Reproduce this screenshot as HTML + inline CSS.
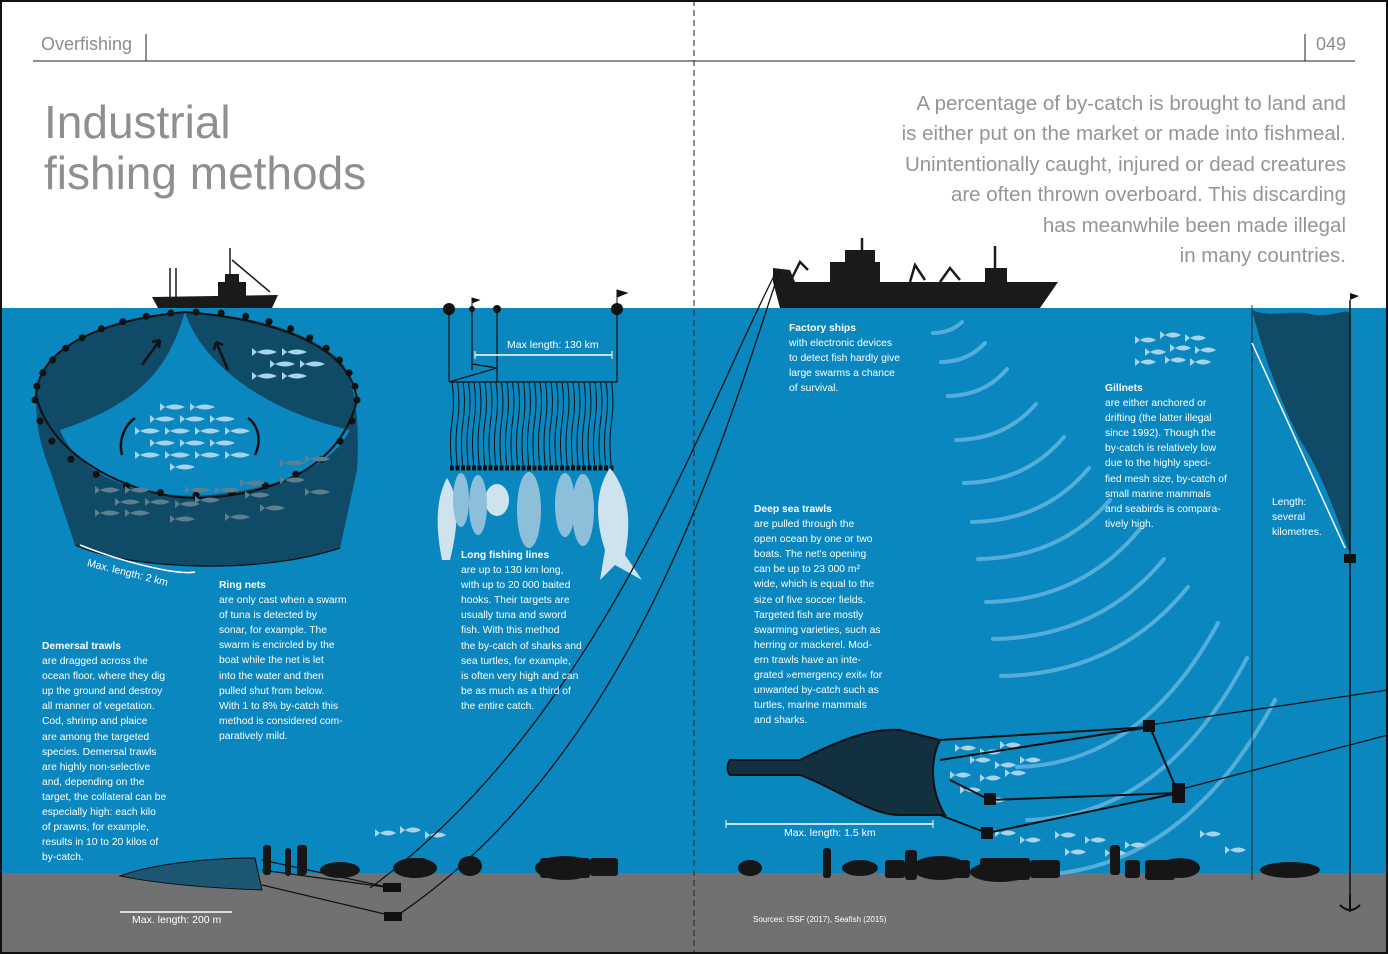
<!DOCTYPE html>
<html><head><meta charset="utf-8">
<style>
html,body{margin:0;padding:0}
body{width:1388px;height:954px;position:relative;overflow:hidden;background:#fff;font-family:"Liberation Sans",sans-serif}
.t{position:absolute;color:#fff;font-size:10.3px;line-height:15.1px;white-space:pre}
.t b{font-weight:bold}
.g{position:absolute;color:#8c8c8c}
</style></head><body>
<svg id="s" width="1388" height="954" style="position:absolute;left:0;top:0">
<rect x="0" y="308" width="1388" height="570" fill="#0a87bf"/>
<rect x="0" y="873" width="1388" height="81" fill="#707173"/>
<line x1="33" y1="61" x2="1355" y2="61" stroke="#222" stroke-width="1"/>
<line x1="146" y1="34" x2="146" y2="61" stroke="#222"/>
<line x1="1305" y1="34" x2="1305" y2="61" stroke="#222"/>
<line x1="694" y1="0" x2="694" y2="954" stroke="#222" stroke-dasharray="6,4"/>
<g id="sonar" fill="none" stroke="#6dbbe2" stroke-width="4" stroke-linecap="round" opacity="0.75"></g>
<path d="M185,312 C120,318 40,340 36,395 C36,420 38,440 50,470 L75,545 C130,570 260,575 340,548 L357,470 C360,420 355,380 340,360 C300,325 240,315 185,312Z" fill="#0f4a66"/>
<path d="M185,312 C170,360 150,400 60,430 C80,480 150,500 210,495 C270,490 330,470 350,430 C260,410 200,360 185,312Z" fill="#0a87bf"/>
<path d="M36,395 C50,460 140,500 200,498 C270,495 340,470 357,400" fill="none" stroke="#111" stroke-width="2"/>
<path d="M185,312 C120,318 40,340 36,395 M185,312 C260,318 350,340 357,400" fill="none" stroke="#111" stroke-width="2"/>
<path d="M75,545 C130,570 260,575 340,548" fill="none" stroke="#111" stroke-width="1.2"/>
<g id="ringdots" fill="#111"></g>
<path d="M80,545 C130,565 180,575 195,572" fill="none" stroke="#fff" stroke-width="1.5"/>
<path d="M142,365 l18,-25 M160,340 l-8,2 M160,340 l-1,8 M228,370 l-12,-28 M216,342 l-2,8 M216,342 l7,3" stroke="#111" stroke-width="2.5" fill="none"/>
<path d="M122,455 C118,440 125,425 135,418 M255,455 C262,440 258,425 248,418" stroke="#111" stroke-width="2.5" fill="none"/>
<g id="fish"></g>
<path d="M152,297 L278,295 L272,308 L158,308Z" fill="#1a1a1a"/>
<rect x="218" y="282" width="28" height="15" fill="#1a1a1a"/><rect x="225" y="274" width="14" height="9" fill="#1a1a1a"/>
<path d="M170,297 L170,268 M176,297 L176,268 M230,274 L230,248 M232,260 L270,292" stroke="#1a1a1a" stroke-width="1.5"/>
<g stroke="#111" stroke-width="1.2" fill="none">
<line x1="449" y1="308" x2="449" y2="382"/><line x1="617" y1="308" x2="617" y2="382"/><line x1="472" y1="305" x2="472" y2="370"/><line x1="497" y1="310" x2="497" y2="382"/>
<line x1="449" y1="382" x2="617" y2="382"/><path d="M449,382 L497,368 L472,364"/>
</g>
<g id="hooks" stroke="#111" stroke-width="1" fill="none"></g>
<circle cx="449" cy="309" r="6" fill="#111"/><circle cx="617" cy="309" r="6" fill="#111"/><circle cx="472" cy="309" r="3" fill="#111"/><circle cx="497" cy="309" r="4" fill="#111"/>
<path d="M617,303 V290 l10,3 -10,4" fill="#111" stroke="#111"/><path d="M472,306 V298 l7,2 -7,3" fill="#111" stroke="#111"/>
<line x1="475" y1="355" x2="612" y2="355" stroke="#fff" stroke-width="1.5"/><line x1="475" y1="351" x2="475" y2="359" stroke="#fff"/><line x1="612" y1="351" x2="612" y2="359" stroke="#fff"/>
<g fill="#cfe3ee">
<path d="M447,478 C435,500 436,530 442,560 L450,560 C460,520 458,495 447,478Z"/>
<path d="M610,468 C595,490 595,520 605,550 L600,580 L615,565 L642,580 L625,555 C632,520 628,490 610,468Z"/>
<ellipse cx="497" cy="500" rx="12" ry="16"/>
</g>
<g fill="#8dbfda"><ellipse cx="478" cy="505" rx="9" ry="30"/><ellipse cx="529" cy="510" rx="12" ry="38"/><ellipse cx="565" cy="505" rx="10" ry="32"/><ellipse cx="583" cy="510" rx="11" ry="36"/><ellipse cx="461" cy="500" rx="8" ry="27"/></g>
<path d="M773,282 L1058,282 L1040,308 L780,308Z" fill="#1a1a1a"/>
<path d="M773,282 L773,268 L790,270 L795,282Z" fill="#1a1a1a"/>
<rect x="830" y="262" width="50" height="22" fill="#1a1a1a"/><rect x="845" y="250" width="30" height="14" fill="#1a1a1a"/>
<rect x="985" y="268" width="22" height="16" fill="#1a1a1a"/>
<path d="M862,250 V238 M995,268 V246 M790,282 L800,262 L808,270 M910,282 L915,265 L925,280 M940,282 L950,268 L960,280" stroke="#1a1a1a" stroke-width="2.5" fill="none"/>
<path d="M776,272 C700,420 600,720 370,888" stroke="#111" stroke-width="1.3" fill="none"/>
<path d="M779,272 C720,450 630,760 395,917" stroke="#111" stroke-width="1.3" fill="none"/>
<path d="M730,760 L800,760 C840,740 870,728 900,730 L940,740 C930,760 930,790 945,815 L900,815 C870,815 840,790 800,775 L730,775 Q725,768 730,760Z" fill="#12303f" stroke="#111" stroke-width="2"/>
<path d="M940,740 L1150,727 L1178,793 L990,800 M940,815 L987,833 L1178,793 M940,760 L1150,727 M950,780 L990,800" stroke="#111" stroke-width="2" fill="none"/>
<path d="M1150,725 L1388,690 M1178,790 L1388,735" stroke="#111" stroke-width="1.3"/>
<rect x="1143" y="720" width="12" height="12" fill="#111"/><rect x="1172" y="783" width="13" height="20" fill="#111"/><rect x="984" y="793" width="12" height="12" fill="#111"/><rect x="981" y="827" width="12" height="12" fill="#111"/>
<line x1="726" y1="824" x2="933" y2="824" stroke="#fff" stroke-width="1.5"/><line x1="726" y1="820" x2="726" y2="828" stroke="#fff"/><line x1="933" y1="820" x2="933" y2="828" stroke="#fff"/>
<path d="M1252,310 C1270,318 1290,310 1310,314 C1330,318 1340,310 1350,312 L1350,555 C1335,510 1320,470 1300,440 C1280,400 1265,360 1252,310Z" fill="#0f4a66"/>
<line x1="1350" y1="300" x2="1350" y2="905" stroke="#111" stroke-width="1.5"/>
<line x1="1252" y1="305" x2="1252" y2="880" stroke="#111" stroke-width="0.8"/>
<rect x="1344" y="554" width="12" height="9" fill="#111"/>
<path d="M1340,905 Q1350,915 1360,905 M1350,895 V912" stroke="#111" stroke-width="2" fill="none"/>
<line x1="1252" y1="343" x2="1345" y2="548" stroke="#fff" stroke-width="1.5"/>
<path d="M1350,303 V293 l9,3 -9,4" fill="#111"/>
<path d="M120,876 C150,865 200,858 255,858 L262,890 C210,888 160,884 120,876Z" fill="#1d5670" stroke="#111"/>
<path d="M262,860 L392,888 M262,885 L393,916 M262,870 L392,888" stroke="#111" stroke-width="1.2"/>
<rect x="383" y="883" width="18" height="9" fill="#111"/><rect x="384" y="912" width="18" height="9" fill="#111"/>
<line x1="120" y1="912" x2="232" y2="912" stroke="#fff" stroke-width="1.5"/>
<g id="bed" fill="#161616"></g>
<rect x="1" y="1" width="1386" height="952" fill="none" stroke="#111" stroke-width="2"/>
</svg>
<div class="g" style="left:41px;top:34px;font-size:18px">Overfishing</div>
<div class="g" style="left:1316px;top:34px;font-size:18px">049</div>
<div class="g" style="left:44px;top:97px;font-size:46px;line-height:51px;color:#8f8f8f">Industrial<br>fishing methods</div>
<div class="g" style="right:42px;top:89px;font-size:20.5px;line-height:30.4px;text-align:right;color:#959595">A percentage of by-catch is brought to land and<br>is either put on the market or made into fishmeal.<br>Unintentionally caught, injured or dead creatures<br>are often thrown overboard. This discarding<br>has meanwhile been made illegal<br>in many countries.</div>
<div class="t" style="left:86px;top:566px;transform:rotate(14deg);font-size:10.5px">Max. length: 2 km</div>
<div class="t" style="left:507px;top:338px;font-size:10.5px">Max length: 130 km</div>
<div class="t" style="left:784px;top:826px;font-size:10.5px">Max. length: 1.5 km</div>
<div class="t" style="left:132px;top:913px;font-size:10.5px">Max. length: 200 m</div>
<div class="t" style="left:753px;top:912px;font-size:8px">Sources: ISSF (2017), Seafish (2015)</div>
<div class="t" style="left:42px;top:639px"><b>Demersal trawls</b>
are dragged across the
ocean floor, where they dig
up the ground and destroy
all manner of vegetation.
Cod, shrimp and plaice
are among the targeted
species. Demersal trawls
are highly non-selective
and, depending on the
target, the collateral can be
especially high: each kilo
of prawns, for example,
results in 10 to 20 kilos of
by-catch.</div>
<div class="t" style="left:219px;top:578px"><b>Ring nets</b>
are only cast when a swarm
of tuna is detected by
sonar, for example. The
swarm is encircled by the
boat while the net is let
into the water and then
pulled shut from below.
With 1 to 8% by-catch this
method is considered com-
paratively mild.</div>
<div class="t" style="left:461px;top:548px"><b>Long fishing lines</b>
are up to 130 km long,
with up to 20 000 baited
hooks. Their targets are
usually tuna and sword
fish. With this method
the by-catch of sharks and
sea turtles, for example,
is often very high and can
be as much as a third of
the entire catch.</div>
<div class="t" style="left:789px;top:321px"><b>Factory ships</b>
with electronic devices
to detect fish hardly give
large swarms a chance
of survival.</div>
<div class="t" style="left:754px;top:502px"><b>Deep sea trawls</b>
are pulled through the
open ocean by one or two
boats. The net's opening
can be up to 23 000 m²
wide, which is equal to the
size of five soccer fields.
Targeted fish are mostly
swarming varieties, such as
herring or mackerel. Mod-
ern trawls have an inte-
grated »emergency exit« for
unwanted by-catch such as
turtles, marine mammals
and sharks.</div>
<div class="t" style="left:1105px;top:381px"><b>Gillnets</b>
are either anchored or
drifting (the latter illegal
since 1992). Though the
by-catch is relatively low
due to the highly speci-
fied mesh size, by-catch of
small marine mammals
and seabirds is compara-
tively high.</div>
<div class="t" style="left:1272px;top:495px">Length:
several
kilometres.</div>
<script>
var NS="http://www.w3.org/2000/svg";
function el(p,t,a){var e=document.createElementNS(NS,t);for(var k in a)e.setAttribute(k,a[k]);document.getElementById(p).appendChild(e);return e;}
var arcs=[[933,333,962,322],[941,362,985,343],[948,396,1007,369],[956,440,1036,404],[964,483,1064,437],[972,522,1089,468],[978,559,1110,500],[986,602,1140,529],[993,639,1164,559],[1001,676,1188,587],[1017,767,1218,623],[1027,820,1247,658],[1035,875,1275,700]];
arcs.forEach(function(a){var dx=a[2]-a[0];var cx=a[0]+0.62*dx,cy=a[1]+0.02*(a[3]-a[1]);
el("sonar","path",{d:"M"+a[0]+","+a[1]+" Q"+cx+","+cy+" "+a[2]+","+a[3]});});
for(var i=0;i<=20;i++){var t=i/20;var a=Math.PI*(1+t);el("ringdots","circle",{cx:196+161*Math.cos(a),cy:400+88*Math.sin(a),r:3.5});}
for(var i=1;i<14;i++){var a=Math.PI*i/14;el("ringdots","circle",{cx:196-160*Math.cos(a),cy:400+95*Math.sin(a),r:3.5});}
function fish(x,y,c,s){s=s||1;el("fish","path",{d:"M"+x+","+y+" q"+(10*s)+",-5 "+(20*s)+",0 q"+(-10*s)+",5 "+(-20*s)+",0 l-5,-4 v8z",fill:c});}
var lf=[[257,352],[287,352],[275,364],[305,364],[257,376],[287,376],[165,407],[195,407],[155,419],[185,419],[215,419],[140,431],[170,431],[200,431],[230,431],[155,443],[185,443],[215,443],[140,455],[170,455],[200,455],[230,455],[175,467]];
lf.forEach(function(p){fish(p[0],p[1],"#a9d3ea");});
var df=[[100,490],[130,490],[120,502],[150,502],[100,513],[130,513],[190,490],[220,490],[200,500],[245,483],[250,495],[285,480],[310,459],[285,463],[310,492],[180,504],[175,519],[230,517],[265,508]];
df.forEach(function(p){fish(p[0],p[1],"#5f7f90",1);});
var sf=[[1140,340],[1165,335],[1190,338],[1150,352],[1175,348],[1200,350],[1140,362],[1170,360],[1195,362],[960,748],[985,752],[1005,745],[975,760],[1000,765],[1025,760],[955,775],[985,778],[1010,773],[965,790],[990,800],[380,833],[405,830],[430,835],[1000,833],[1025,840],[1060,835],[1090,840],[1070,852],[1110,853],[1130,845],[1205,834],[1230,850]];
sf.forEach(function(p){fish(p[0],p[1],"#a9d3ea",0.8);});
for(var x=452;x<=612;x+=5.5){el("hooks","path",{d:"M"+x+",382 q3,20 0,40 q-3,20 0,46"});el("hooks","rect",{x:x-1.5,y:466,width:3,height:4,fill:"#111"});}
var b=[[263,845,8,30],[285,848,6,28],[297,845,10,30],[408,858,18,16],[540,858,50,20],[590,858,28,18],[823,848,8,30],[885,860,20,18],[905,850,12,30],[930,860,40,18],[980,858,50,22],[1030,860,30,18],[1110,845,10,30],[1125,860,15,18],[1145,860,30,20]];
b.forEach(function(q){el("bed","rect",{x:q[0],y:q[1],width:q[2],height:q[3],rx:3});});
var e=[[415,868,22,10],[565,868,30,12],[940,868,28,12],[1000,872,30,10],[1180,868,20,10],[1290,870,30,8],[340,870,20,8],[750,868,12,8],[860,868,18,8],[470,866,12,10]];
e.forEach(function(q){el("bed","ellipse",{cx:q[0],cy:q[1],rx:q[2],ry:q[3]});});
</script>
</body></html>
